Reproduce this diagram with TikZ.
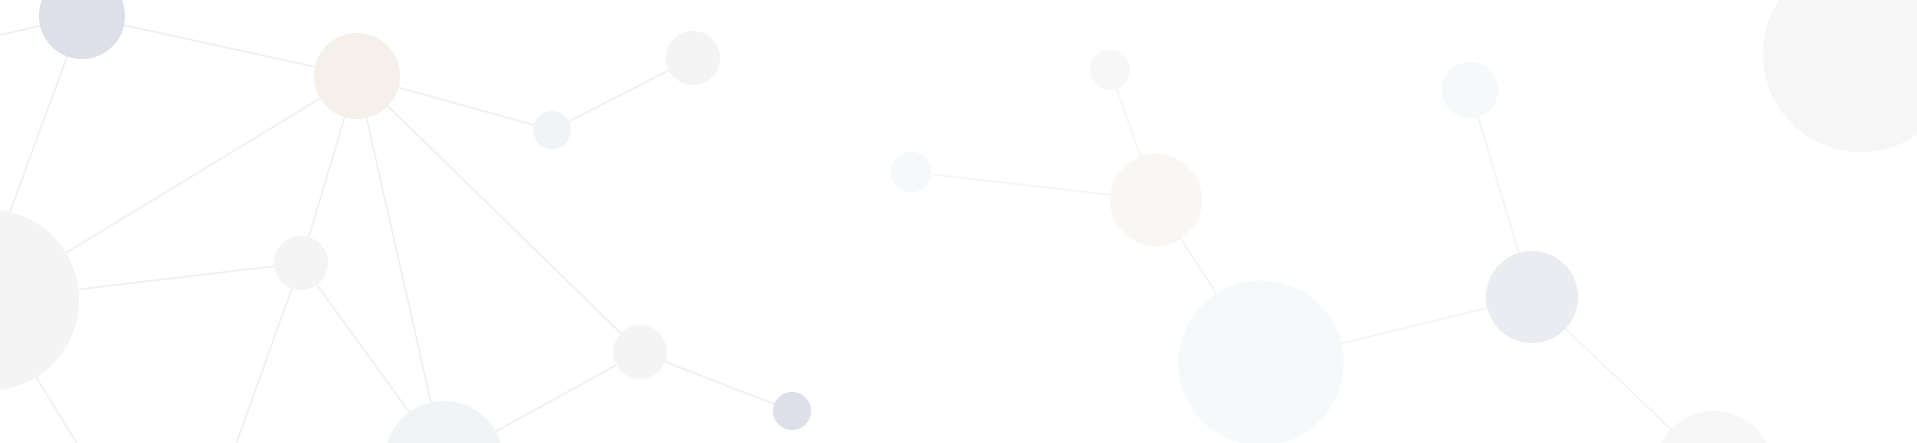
\documentclass[tikz,border=0pt]{standalone}
\pgfdeclarelayer{bg}
\pgfsetlayers{bg,main}
\definecolor{linkc}{HTML}{F0F0F0}
\definecolor{linkr}{HTML}{F4F4F4}
\definecolor{cgb}{HTML}{DEE0E9}
\definecolor{cbeige}{HTML}{F5F0EA}
\definecolor{cbl}{HTML}{F1F4F7}
\definecolor{cgr}{HTML}{F4F4F4}
\definecolor{cpale}{HTML}{F6F9FA}
\definecolor{clg}{HTML}{F7F7F7}
\definecolor{cpeach}{HTML}{FAF6F3}
\definecolor{cgb2}{HTML}{EBECF1}
\definecolor{ctr}{HTML}{F6F6F6}
\begin{document}
\begin{tikzpicture}[x=1pt,y=-1pt,
  link/.style={draw=linkc, line width=1.6pt},
  linkR/.style={draw=linkr, line width=1.6pt},
  dot/.style={circle, inner sep=0pt, outer sep=0pt, minimum size=#1}]
\useasboundingbox (0,0) rectangle (1917,443);
\clip (0,0) rectangle (1917,443);
% left cluster
\node[dot=86pt, fill=cgb] (A) at (82,16) {};
\node[dot=86pt, fill=cbeige] (B) at (357,76) {};
\node[dot=38pt, fill=cbl] (C) at (552,130) {};
\node[dot=181pt, fill=cgr] (D) at (-11.5,300) {};
\node[dot=54pt, fill=cgr] (E) at (301,263) {};
\node[dot=54pt, fill=cgr] (F) at (640,352) {};
\node[dot=118pt, fill=cbl] (G) at (444,460) {};
\node[dot=54pt, fill=cgr] (H) at (693,58) {};
\node[dot=38pt, fill=cgb] (I) at (792,411) {};
% right cluster
\node[dot=40pt, fill=cpale] (J) at (911,172) {};
\node[dot=40pt, fill=clg] (K) at (1110,70) {};
\node[dot=92pt, fill=cpeach] (L) at (1156,200) {};
\node[dot=165pt, fill=cpale] (M) at (1261,363) {};
\node[dot=56pt, fill=cpale] (N) at (1470,90) {};
\node[dot=92pt, fill=cgb2] (O) at (1532,297) {};
\node[dot=118pt, fill=clg] (P) at (1714,470) {};
\node[dot=196pt, fill=ctr] (Q) at (1861,54) {};
% free ends outside the frame
\coordinate (offA) at (-60,49);
\coordinate (offD) at (112,500);
\coordinate (offE) at (216,500);
\begin{pgfonlayer}{bg}
\fill[white] (0,0) rectangle (1917,443);
\draw[link] (A.center) -- (offA);
\draw[link] (A) -- ([xshift=-11pt]D.center);
\draw[link] (A) -- (B);
\draw[link] (B) -- (D);
\draw[link] (B) -- (E);
\draw[link] (B) -- (G);
\draw[link] (B) -- (F);
\draw[link] (B) -- (C);
\draw[link] (C) -- (H);
\draw[link] (D) -- (E);
\draw[link] (D.center) -- (offD);
\draw[link] (E.center) -- (offE);
\draw[link] (E) -- (G);
\draw[link] (G) -- (F);
\draw[link] (F) -- (I);
\draw[linkR] (J) -- (L);
\draw[linkR] (K) -- (L);
\draw[linkR] (L) -- (M);
\draw[linkR] (M) -- (O);
\draw[linkR] (N) -- (O);
\draw[linkR] (O) -- (P);
\end{pgfonlayer}
\end{tikzpicture}
\end{document}
